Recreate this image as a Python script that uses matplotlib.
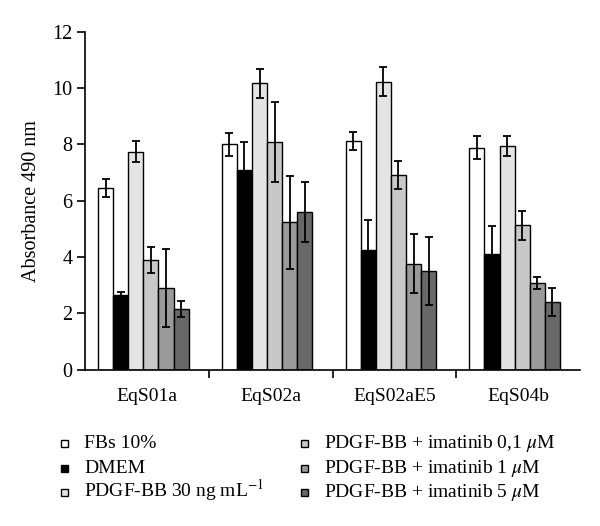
import matplotlib
matplotlib.use("Agg")
import matplotlib.pyplot as plt
from matplotlib.patches import Rectangle
import numpy as np

plt.rcParams['font.family'] = ['Liberation Serif', 'DejaVu Serif']
plt.rcParams['mathtext.fontset'] = 'stix'

categories = ["EqS01a", "EqS02a", "EqS02aE5", "EqS04b"]
series = ["FBs 10%", "DMEM", "PDGF-BB 30 ng mL$^{-1}$",
          "PDGF-BB + imatinib 0,1 $\\mu$M", "PDGF-BB + imatinib 1 $\\mu$M",
          "PDGF-BB + imatinib 5 $\\mu$M"]
colors = ["#ffffff", "#000000", "#e4e4e4", "#c8c8c8", "#9a9a9a", "#686868"]

fbs = [6.46, 8.00, 8.12, 7.88]
dmem = [2.65, 7.08, 4.26, 4.11]
pdgf = [7.74, 10.16, 10.22, 7.94]
ima01 = [3.88, 8.08, 6.92, 5.12]
ima1 = [2.90, 5.23, 3.76, 3.08]
ima5 = [2.15, 5.60, 3.50, 2.40]

fbs_err = [0.32, 0.40, 0.32, 0.41]
dmem_err = [0.12, 1.00, 1.04, 1.00]
pdgf_err = [0.36, 0.52, 0.52, 0.34]
ima01_err = [0.46, 1.42, 0.50, 0.53]
ima1_err = [1.39, 1.65, 1.05, 0.20]
ima5_err = [0.28, 1.06, 1.20, 0.50]

values = [fbs, dmem, pdgf, ima01, ima1, ima5]
errors = [fbs_err, dmem_err, pdgf_err, ima01_err, ima1_err, ima5_err]

W, H = 600, 526
fig = plt.figure(figsize=(W / 100, H / 100), dpi=100)
ax = fig.add_axes([0.142, 0.297, 0.825, 0.643])

x = np.arange(len(categories))
w = 0.122
for i, (v, e, c) in enumerate(zip(values, errors, colors)):
    pos = x - 0.03 + (i - 2.5) * w
    ax.bar(pos, v, width=w, color=c, edgecolor='black', linewidth=1.0,
           yerr=e, error_kw=dict(ecolor='black', elinewidth=1.3, capsize=3, capthick=1.3),
           label=series[i], zorder=2)

ax.set_xlim(-0.5, 3.5)
ax.set_ylim(0, 12)
ax.set_yticks([0, 2, 4, 6, 8, 10, 12])
ax.set_xticks(x)
ax.set_xticklabels(categories, fontsize=14)
ax.set_xticks([0.5, 1.5, 2.5], minor=True)
ax.tick_params(axis='x', which='major', length=0, pad=13)
ax.tick_params(axis='x', which='minor', length=5.5, width=1.2, direction='out')
ax.tick_params(axis='y', labelsize=14.5, length=5.5, width=1.2, direction='out')
for s in ['top', 'right']:
    ax.spines[s].set_visible(False)
for s in ['left', 'bottom']:
    ax.spines[s].set_linewidth(1.2)
ax.set_ylabel("Absorbance 490 nm", fontsize=14.5, labelpad=8)

# legend (two columns, placed below the plot)
marker_x = [60.5, 300.5]
text_x = [84, 324]
baselines = [447.5, 473, 497]
msize = 7.0
for i in range(6):
    col, row = divmod(i, 3)
    yb = baselines[row]
    fig.patches.append(Rectangle((marker_x[col] / W, 1 - (yb - 1) / H),
                                 msize / W, msize / H, transform=fig.transFigure,
                                 facecolor=colors[i], edgecolor='black', linewidth=1.0))
    fig.text(text_x[col] / W, 1 - yb / H, series[i], fontsize=14,
             ha='left', va='baseline')

fig.savefig("out.png", dpi=100)
